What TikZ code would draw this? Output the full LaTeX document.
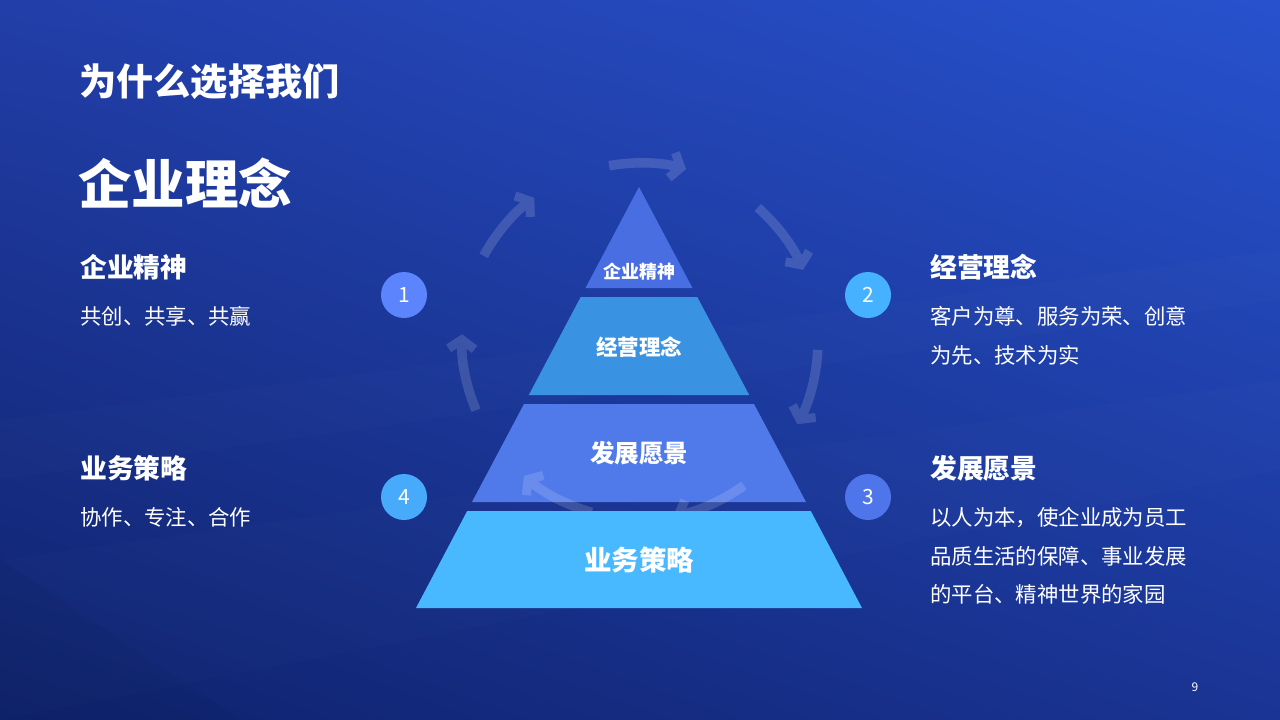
\documentclass[tikz,border=0pt]{standalone}
\usepackage{fontspec}
\setmainfont{Noto Sans CJK SC}
\usetikzlibrary{arrows.meta,shadings}
\definecolor{bgTL}{RGB}{34,62,168}
\definecolor{bgTR}{RGB}{39,82,206}
\definecolor{bgBL}{RGB}{14,34,108}
\definecolor{bgBR}{RGB}{26,52,148}
\definecolor{layA}{RGB}{72,110,226}
\definecolor{layB}{RGB}{58,146,226}
\definecolor{layC}{RGB}{80,121,234}
\definecolor{layD}{RGB}{72,184,255}
\definecolor{cirA}{RGB}{92,132,252}
\definecolor{cirB}{RGB}{70,178,255}
\definecolor{cirC}{RGB}{78,118,234}
\definecolor{cirD}{RGB}{72,170,250}
\tikzset{
  layertext/.style={text=white,font=\bfseries,inner sep=0pt},
  heading/.style={text=white,font=\bfseries\fontsize{26.8}{30}\selectfont,anchor=west,inner sep=0pt},
  bodytext/.style={text=white,font=\fontsize{21.4}{24}\selectfont,anchor=west,inner sep=0pt},
  numcircle/.style={circle,minimum size=46pt,inner sep=0pt,text=white,font=\fontsize{21}{24}\selectfont},
  cyclearrow/.style={draw=white,line width=9.5pt,-{Straight Barb[length=9pt,width=26pt,line width=9pt]}}
}
\begin{document}
\begin{tikzpicture}[x=1pt,y=-1pt]
\useasboundingbox (0,0) rectangle (1280,720);
\shade[upper left=bgTL,upper right=bgTR,lower left=bgBL,lower right=bgBR] (0,0) rectangle (1280,720);
% faint streaks
\fill[white,opacity=0.012] (0,560) -- (1280,380) -- (1280,470) -- (0,720) -- cycle;
\fill[white,opacity=0.012] (0,420) -- (700,330) -- (1280,250) -- (1280,300) -- (0,480) -- cycle;
\fill[black,opacity=0.04] (0,560) -- (240,720) -- (0,720) -- cycle;

% pyramid (upper three layers)
\fill[layA] (639,187) -- (692.5,288) -- (585.5,288) -- cycle;
\fill[layB] (580.7,297) -- (697.3,297) -- (749.2,395) -- (528.8,395) -- cycle;
\fill[layC] (524,404) -- (754,404) -- (806,502) -- (472,502) -- cycle;

% cycle arrows
\coordinate (cc) at (640,341);
\begin{scope}[transparency group,opacity=0.15]
\foreach \s in {0,...,6}{
  \pgfmathsetmacro{\aa}{-(100-51.43*\s)}
  \pgfmathsetmacro{\ab}{\aa+25}
  \draw[cyclearrow] ([shift={(\aa:178)}]cc) arc[start angle=\aa,end angle=\ab,radius=178];
}
\end{scope}

% bottom layer
\fill[layD] (467.2,511) -- (810.8,511) -- (862,608) -- (416,608) -- cycle;

\node[layertext,font=\bfseries\fontsize{18}{20}\selectfont] (p1) at (639,272) {企业精神};
\node[layertext,font=\bfseries\fontsize{21.5}{24}\selectfont] (p2) at (639,347) {经营理念};
\node[layertext,font=\bfseries\fontsize{24.5}{28}\selectfont] (p3) at (639,453) {发展愿景};
\node[layertext,font=\bfseries\fontsize{27.5}{32}\selectfont] (p4) at (639,560) {业务策略};

% number circles
\node[numcircle,fill=cirA] (n1) at (404,295) {1};
\node[numcircle,fill=cirB] (n2) at (868,295) {2};
\node[numcircle,fill=cirC] (n3) at (868,497) {3};
\node[numcircle,fill=cirD] (n4) at (404,497) {4};

% titles
\node[text=white,font=\bfseries\fontsize{37.2}{40}\selectfont,anchor=west,inner sep=0pt] (title) at (79,82) {为什么选择我们};
\node[text=white,font=\bfseries\fontsize{53.5}{60}\selectfont,anchor=west,inner sep=0pt] (sub) at (78,183) {企业理念};

% left texts
\node[heading] (h1) at (80,267) {企业精神};
\node[bodytext] (t1) at (80,316) {共创、共享、共赢};
\node[heading] (h4) at (80,468) {业务策略};
\node[bodytext] (t4) at (80,517) {协作、专注、合作};

% right texts
\node[heading] (h2) at (930,267) {经营理念};
\node[bodytext] (t2a) at (930,316) {客户为尊、服务为荣、创意};
\node[bodytext] (t2b) at (930,355) {为先、技术为实};
\node[heading] (h3) at (930,468) {发展愿景};
\node[bodytext] (t3a) at (930,518) {以人为本，使企业成为员工};
\node[bodytext] (t3b) at (930,556) {品质生活的保障、事业发展};
\node[bodytext] (t3c) at (930,594) {的平台、精神世界的家园};

\node[text=white,font=\fontsize{12}{14}\selectfont,inner sep=0pt] (pg) at (1195,687) {9};
\end{tikzpicture}
\end{document}
